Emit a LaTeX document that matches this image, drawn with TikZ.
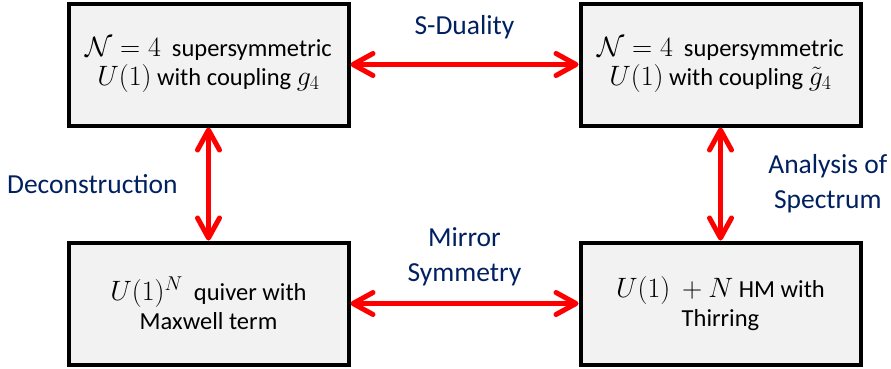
\documentclass[tikz,border=0pt]{standalone}
\usepackage{amsmath}
\usepackage{fix-cm}
\usepackage{fontspec}
\setmainfont{Carlito}
\usepackage{tikz}
\usetikzlibrary{arrows.meta,positioning}
\definecolor{boxgray}{RGB}{242,242,242}
\definecolor{labelblue}{RGB}{0,32,96}
\DeclareMathSizes{24.5}{28}{20}{15}

\begin{document}
\begin{tikzpicture}[
    node distance=113pt and 228pt,
    theory/.style={draw, line width=4pt, fill=boxgray, align=center, minimum width=280pt, minimum height=122pt, font=\fontsize{24.5}{29}\selectfont},
    duality/.style={draw=red, line width=5pt, {Straight Barb[round,length=20pt,width=22pt]}-{Straight Barb[round,length=20pt,width=22pt]}},
    relation/.style={text=labelblue, align=center, font=\fontsize{27.5}{35}\selectfont}
  ]
    \useasboundingbox (0,0) rectangle (891pt,-368pt);
    \node[theory] (gauge) at (208.5pt,-64.5pt) {$\mathcal{N}=4$ \ supersymmetric\\$U(1)$ with coupling $g_4$};
    \node[theory, right=of gauge] (dual) {$\mathcal{N}=4$ \ supersymmetric\\$U(1)$ with coupling $\tilde{g}_4$};
    \node[theory, below=of gauge] (quiver) {$U(1)^N$ \ quiver with\\Maxwell term};
    \node[theory, below=of dual] (thirring) {$U(1)\ +N$ HM with\\Thirring};
    \draw[duality] (gauge) -- node[relation, above=20pt]{S-Duality} (dual);
    \draw[duality] (gauge) -- node[relation, left=25pt]{Deconstruction} (quiver);
    \draw[duality] (quiver) -- node[relation, above=12pt]{Mirror\\Symmetry} (thirring);
    \draw[duality] (dual) -- node[relation, right=42pt]{Analysis of\\Spectrum} (thirring);
  \end{tikzpicture}
\end{document}
